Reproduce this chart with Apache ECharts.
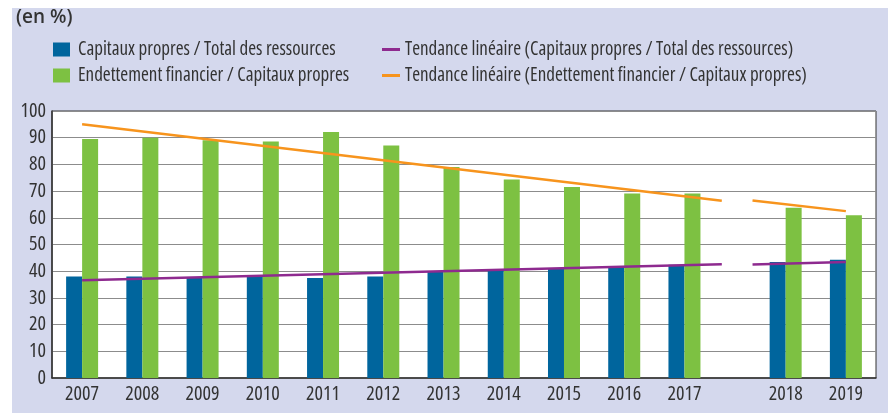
<!DOCTYPE html>
<html><head><meta charset="utf-8">
<script src="https://cdn.jsdelivr.net/npm/echarts@6/dist/echarts.min.js"></script>
<style>
html,body{margin:0;padding:0;background:#fff;}
#bg{position:absolute;left:12px;top:8px;width:876px;height:405px;background:#d4d8ed;}
#c{position:absolute;left:0;top:0;width:890px;height:413px;}
</style></head>
<body><div id="bg"></div><div id="c"></div>
<script>
const years = ['2007','2008','2009','2010','2011','2012','2013','2014','2015','2016','2017','2018','2019'];
const capitauxTotal = [38, 38, 37.8, 38.1, 37.5, 38, 39.8, 40.5, 41, 41.6, 42.4, 43.4, 44.3];
const endettementCapitaux = [89.5, 90, 89, 88.6, 92.1, 87.1, 79, 74.3, 71.5, 69.1, 69.1, 63.8, 61];
// linear trend segments: [start value, end value]
const trendCapitauxA = [36.6, 42.6];
const trendCapitauxB = [42.5, 43.4];
const trendEndettementA = [95, 66.4];
const trendEndettementB = [66.5, 62.5];
const yTicks = [0,10,20,30,40,50,60,70,80,90,100];

const FONT = '"Open Sans","Roboto Condensed",sans-serif';
const STRETCH = 'condensed';   // font-stretch keyword placed in the weight slot
const GAP = 0.68;           // visual break before 2018
const breakIndex = 11;
const xpos = years.map((y, i) => i + (i >= breakIndex ? GAP : 0));
// trend segment x extents (slot units)
const segA = [xpos[0], xpos[10] + 0.62];
const segB = [xpos[11] - 0.55, xpos[12]];

const names = ['Capitaux propres / Total des ressources',
               'Endettement financier / Capitaux propres',
               'Tendance linéaire (Capitaux propres / Total des ressources)',
               'Tendance linéaire (Endettement financier / Capitaux propres)'];
const cBlue = '#00659d', cGreen = '#7dc142', cPurple = '#8e2a8f', cOrange = '#f7941d';
const txt = (size, extra) => Object.assign({fontFamily:FONT, fontSize:size, fontWeight:STRETCH, color:'#333'}, extra||{});

const chart = echarts.init(document.getElementById('c'));
const legendBase = {orient:'horizontal', padding:0, itemGap:0, selectedMode:false};
chart.setOption({
  backgroundColor:'transparent',
  animation:false,
  title:{text:'(en %)', left:16, top:8, padding:0,
    textStyle:{fontFamily:FONT, fontSize:19, fontWeight:600, color:'#333'}},
  legend:[
    Object.assign({}, legendBase, {left:53, top:40, itemWidth:17, itemHeight:14,
      data:[{name:names[0], icon:'rect'}], textStyle:txt(19,{padding:[0,0,0,3]})}),
    Object.assign({}, legendBase, {left:53, top:66, itemWidth:17, itemHeight:14,
      data:[{name:names[1], icon:'rect'}], textStyle:txt(19,{padding:[0,0,0,3]})}),
    Object.assign({}, legendBase, {left:382, top:40, itemWidth:18, itemHeight:3,
      data:[{name:names[2], icon:'rect'}], textStyle:txt(19)}),
    Object.assign({}, legendBase, {left:382, top:66, itemWidth:18, itemHeight:3,
      data:[{name:names[3], icon:'rect'}], textStyle:txt(19)})
  ],
  grid:{left:52, top:111, width:824, height:267, show:true, backgroundColor:'#fff',
    borderColor:'#333', borderWidth:1, containLabel:false},
  xAxis:{type:'value', min:-0.5, max:xpos[xpos.length-1]+0.5,
    axisLine:{show:true, onZero:false, lineStyle:{color:'#333', width:1.5}},
    axisTick:{show:false}, splitLine:{show:false},
    axisLabel:Object.assign({customValues:xpos, margin:6,
      formatter:(v)=>{const i = xpos.findIndex(p=>Math.abs(p-v)<1e-6); return i>=0?years[i]:'';}}, txt(20))},
  yAxis:{type:'value', min:0, max:100, interval:10,
    axisLine:{show:true, onZero:false, lineStyle:{color:'#333', width:1.5}},
    axisTick:{show:false},
    splitLine:{show:true, lineStyle:{color:'#8c8c8c', width:1}},
    axisLabel:Object.assign({margin:6, customValues:yTicks}, txt(20))},
  series:[
    {name:names[0], type:'bar', barWidth:16, barGap:'0%', itemStyle:{color:cBlue},
      data:xpos.map((x,i)=>[x, capitauxTotal[i]])},
    {name:names[1], type:'bar', barWidth:16, barGap:'0%', itemStyle:{color:cGreen},
      data:xpos.map((x,i)=>[x, endettementCapitaux[i]])},
    {name:names[2], type:'line', symbol:'none', lineStyle:{color:cPurple, width:2.5}, itemStyle:{color:cPurple}, z:5,
      data:[[segA[0], trendCapitauxA[0]],[segA[1], trendCapitauxA[1]]]},
    {name:names[2], type:'line', symbol:'none', lineStyle:{color:cPurple, width:2.5}, itemStyle:{color:cPurple}, z:5,
      data:[[segB[0], trendCapitauxB[0]],[segB[1], trendCapitauxB[1]]]},
    {name:names[3], type:'line', symbol:'none', lineStyle:{color:cOrange, width:2.5}, itemStyle:{color:cOrange}, z:5,
      data:[[segA[0], trendEndettementA[0]],[segA[1], trendEndettementA[1]]]},
    {name:names[3], type:'line', symbol:'none', lineStyle:{color:cOrange, width:2.5}, itemStyle:{color:cOrange}, z:5,
      data:[[segB[0], trendEndettementB[0]],[segB[1], trendEndettementB[1]]]}
  ]
});
</script></body></html>
